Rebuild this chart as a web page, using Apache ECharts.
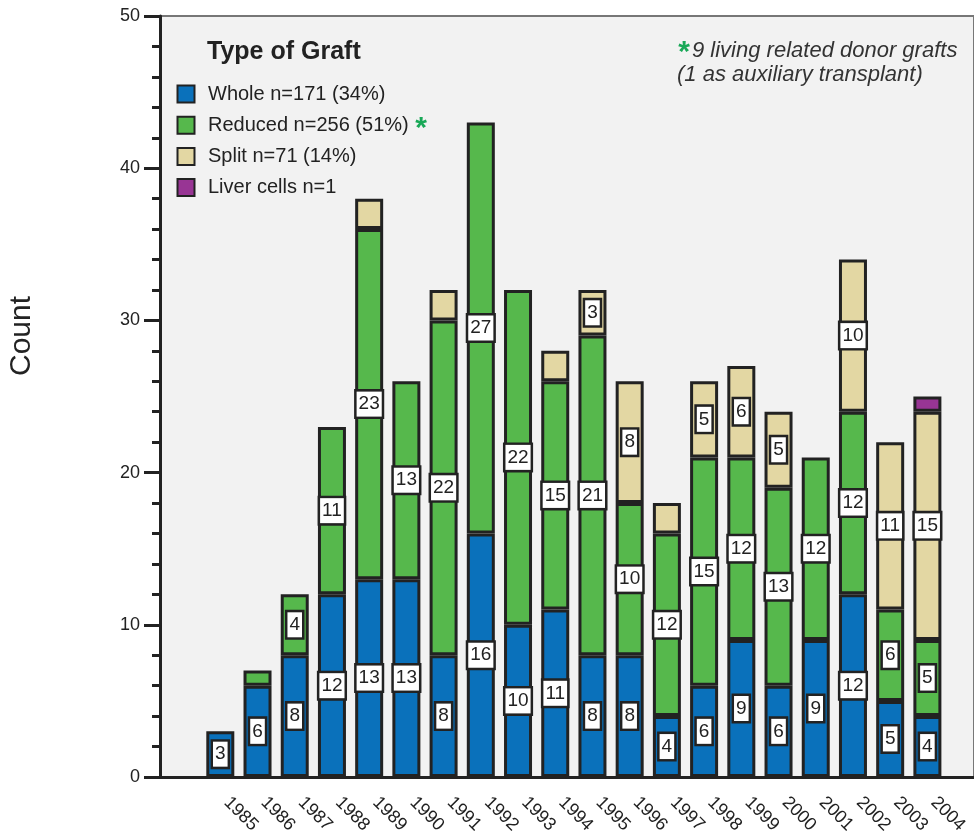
<!DOCTYPE html>
<html>
<head>
<meta charset="utf-8">
<script src="https://cdn.jsdelivr.net/npm/echarts@6/dist/echarts.min.js"></script>
<style>
  html, body { margin: 0; padding: 0; background: #fff; }
  #main { width: 974px; height: 837px; }
</style>
</head>
<body>
<div id="main"></div>
<script>
// grafts per year, by type
var years = ['1985', '1986', '1987', '1988', '1989', '1990', '1991', '1992', '1993', '1994',
  '1995', '1996', '1997', '1998', '1999', '2000', '2001', '2002', '2003', '2004']
var whole = [3, 6, 8, 12, 13, 13, 8, 16, 10, 11, 8, 8, 4, 6, 9, 6, 9, 12, 5, 4]
var reduced = [0, 1, 4, 11, 23, 13, 22, 27, 22, 15, 21, 10, 12, 15, 12, 13, 12, 12, 6, 5]
var split = [0, 0, 0, 0, 2, 0, 2, 0, 0, 2, 3, 8, 2, 5, 6, 5, 0, 10, 11, 15]
var liverCells = [0, 0, 0, 0, 0, 0, 0, 0, 0, 0, 0, 0, 0, 0, 0, 0, 0, 0, 0, 1]
var yTicks = [0, 10, 20, 30, 40, 50]

var FONT = '"Liberation Sans", Arial, sans-serif'
var INK = '#222'
var STAR = '#19a857'

var chartObj = echarts.init(document.getElementById('main'))

/** 堆叠柱子，小于3的不显示数字 */
function makeSeries(name, values, color) {
  return {
    name: name,
    type: 'bar',
    stack: 'graft',
    xAxisIndex: 1,
    yAxisIndex: 1,
    barWidth: 28,
    itemStyle: { color: color, borderColor: INK, borderWidth: 3 },
    label: {
      position: 'inside',
      fontFamily: FONT,
      fontSize: 19,
      color: INK,
      textBorderWidth: 0,
      backgroundColor: '#fff',
      borderColor: INK,
      borderWidth: 2.5,
      padding: [4, 2, 2, 2]
    },
    data: values.map(function (v) {
      return v ? { value: v, label: { show: v >= 3 } } : '-'
    })
  }
}

/** 文字 */
function textItem(x, y, text, style) {
  return {
    type: 'text',
    x: x,
    y: y,
    style: Object.assign({
      text: text,
      fontFamily: FONT,
      fill: INK,
      verticalAlign: 'middle'
    }, style)
  }
}

var option = {
  animation: false,
  textStyle: { fontFamily: FONT },
  title: {
    text: 'Type of Graft',
    left: 207,
    top: 40,
    padding: 0,
    textStyle: { fontFamily: FONT, fontSize: 25, fontWeight: 'bold', color: INK }
  },
  legend: {
    orient: 'vertical',
    left: 176.5,
    top: 84,
    padding: 0,
    itemWidth: 34,
    itemHeight: 17,
    itemGap: 11.2,
    icon: 'path://M0,0L16,0L16,16L0,16Z',
    selectedMode: false,
    textStyle: {
      fontFamily: FONT,
      fontSize: 20,
      color: INK
    }
  },
  graphic: [
    textItem(684, 53, '*', { fontSize: 30, fontWeight: 'bold', fill: STAR, align: 'center' }),
    textItem(692, 51, '9 living related donor grafts', { fontSize: 22, fontStyle: 'italic', fill: '#333' }),
    textItem(677, 75, '(1 as auxiliary transplant)', { fontSize: 22, fontStyle: 'italic', fill: '#333' }),
    // Reduced 后面的星号
    textItem(421, 129, '*', { fontSize: 30, fontWeight: 'bold', fill: STAR, align: 'center' }),
    {
      type: 'text',
      x: 22,
      y: 336,
      rotation: Math.PI / 2,
      style: {
        text: 'Count',
        fontFamily: FONT,
        fontSize: 30,
        fill: INK,
        align: 'center',
        verticalAlign: 'middle'
      }
    }
  ],
  grid: [
    // 背景和坐标轴
    {
      left: 160, right: 0, top: 16, bottom: 60,
      show: true,
      backgroundColor: '#f2f2f2',
      borderColor: '#777',
      borderWidth: 2
    },
    // 柱子
    { left: 201.7, right: 28, top: 16, bottom: 60 }
  ],
  xAxis: [
    {
      type: 'value',
      gridIndex: 0,
      min: 0,
      max: 1,
      axisLine: { show: true, lineStyle: { color: INK, width: 3 } },
      axisTick: { show: false },
      axisLabel: { show: false },
      splitLine: { show: false }
    },
    {
      type: 'category',
      gridIndex: 1,
      position: 'bottom',
      data: years,
      axisLine: { show: false },
      axisTick: { alignWithLabel: true, length: 16, lineStyle: { color: INK, width: 3 } },
      axisLabel: {
        rotate: -45,
        margin: 29,
        verticalAlign: 'bottom',
        fontFamily: FONT,
        fontSize: 18,
        color: INK,
        interval: 0
      },
      splitLine: { show: false }
    },
    {
      type: 'category',
      gridIndex: 1,
      position: 'bottom',
      data: years,
      axisLine: { show: false },
      axisTick: { length: 9, interval: 0, lineStyle: { color: INK, width: 3 } },
      axisLabel: { show: false },
      splitLine: { show: false }
    }
  ],
  yAxis: [
    {
      type: 'value',
      gridIndex: 0,
      min: yTicks[0],
      max: yTicks[yTicks.length - 1],
      interval: 10,
      axisLine: { show: true, lineStyle: { color: INK, width: 3 } },
      axisTick: { show: true, length: 16, lineStyle: { color: INK, width: 3 } },
      minorTick: { show: true, splitNumber: 5, length: 8, lineStyle: { color: INK, width: 3 } },
      axisLabel: { margin: 20, fontFamily: FONT, fontSize: 18, color: INK },
      splitLine: { show: false }
    },
    {
      type: 'value',
      gridIndex: 1,
      min: yTicks[0],
      max: yTicks[yTicks.length - 1],
      show: false
    }
  ],
  series: [
    makeSeries('Whole n=171 (34%)', whole, '#0a71bb'),
    makeSeries('Reduced n=256 (51%)', reduced, '#56b84c'),
    makeSeries('Split n=71 (14%)', split, '#e3d7a3'),
    makeSeries('Liver cells n=1', liverCells, '#983594')
  ]
}

chartObj.setOption(option, true)
</script>
</body>
</html>
